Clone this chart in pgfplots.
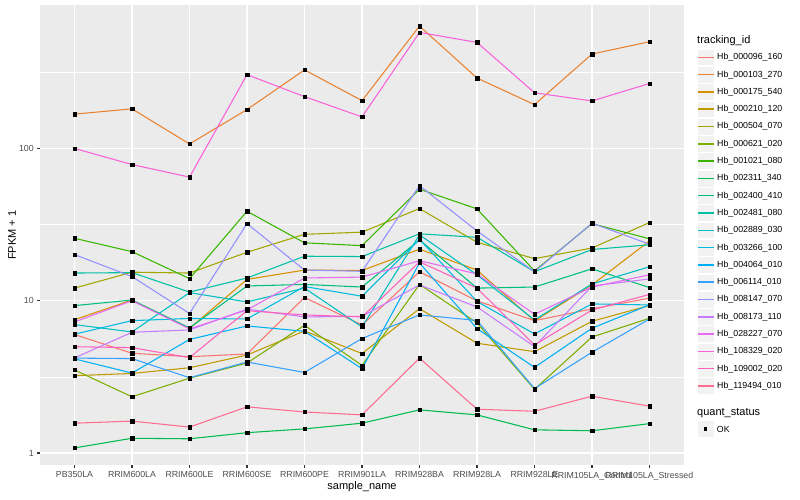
\documentclass[border=0pt]{standalone}
\usepackage{fontspec}
\setmainfont{Liberation Sans}
\usepackage{pgfplots}
\usepackage{pgfplotstable}
\pgfplotsset{compat=1.18}

% ggplot hue palette, 20 levels
\definecolor{c1}{HTML}{F8766D}
\definecolor{c2}{HTML}{EA8331}
\definecolor{c3}{HTML}{D89000}
\definecolor{c4}{HTML}{C09B00}
\definecolor{c5}{HTML}{A3A500}
\definecolor{c6}{HTML}{7CAE00}
\definecolor{c7}{HTML}{39B600}
\definecolor{c8}{HTML}{00BB4E}
\definecolor{c9}{HTML}{00BF7D}
\definecolor{c10}{HTML}{00C1A3}
\definecolor{c11}{HTML}{00BFC4}
\definecolor{c12}{HTML}{00BAE0}
\definecolor{c13}{HTML}{00B0F6}
\definecolor{c14}{HTML}{35A2FF}
\definecolor{c15}{HTML}{9590FF}
\definecolor{c16}{HTML}{C77CFF}
\definecolor{c17}{HTML}{E76BF3}
\definecolor{c18}{HTML}{FA62DB}
\definecolor{c19}{HTML}{FF62BC}
\definecolor{c20}{HTML}{FF6C91}
\definecolor{panelbg}{HTML}{EBEBEB}
\definecolor{keybg}{HTML}{F2F2F2}
\definecolor{gray30}{HTML}{4D4D4D}
\definecolor{gray20}{HTML}{333333}

% FPKM + 1, one column per tracking_id, one row per sample
\pgfplotstableread{
x  s1    s2   s3    s4   s5   s6   s7    s8   s9   s10  s11  s12  s13  s14  s15  s16  s17  s18  s19  s20
0  6.0   168  7.51  3.22 12.1 3.51 25.7  1.08 9.29 15.2 6.97 6.03 4.15 4.2  20.1 4.21 7.26 100  4.99 1.57
1  4.52  182  10.1  3.33 15.4 2.34 21.0  1.25 10.1 15.3 6.24 7.40 3.35 4.17 14.4 6.21 10.0 78.4 4.92 1.62
2  4.29  107  6.58  3.63 15.2 3.1  13.97 1.24 6.63 11.4 11.3 7.65 5.57 3.12 8.25 6.43 6.53 64.8 4.23 1.48
3  4.47  180  13.8  4.40 20.8 3.90 38.7  1.36 12.5 14.1 9.82 7.59 6.83 3.96 32.1 8.8  8.70 305  8.6  2.01
4  10.5  328  15.9  6.33 27.3 6.9  24.0  1.44 12.8 19.6 12.1 12.4 6.3  3.38 15.9 7.83 14.1 219  8.07 1.86
5  6.93  206  15.8  4.5  28.2 3.76 23.0  1.57 12.3 19.5 6.73 10.7 3.58 5.65 15.6 7.9  14.3 161  7.83 1.78
6  15.5  636  21.8  8.87 40.3 12.8 54.0  1.92 25.1 27.5 27.1 25.3 17.7 8.07 57.0 12.7 18.3 578  18.0 4.2
7  9.97  290  15.9  5.26 24.2 7.15 40.1  1.78 12.1 26.1 14.8 9.89 6.56 7.42 28.7 9.10 15.0 497  12.1 1.94
8  7.4   194  7.37  4.63 18.9 2.62 15.7  1.42 12.3 15.5 7.48 6.05 3.65 2.65 15.5 5.0  8.15 232  5.12 1.88
9  8.84  417  12.7  7.33 22.2 5.78 32.1  1.40 16.2 21.7 12.9 9.53 6.6  4.59 32.3 12.5 12.3 205  8.70 2.36
10 10.4  502  24.7  9.3  32.6 7.67 25.5  1.56 12.2 23.3 16.7 9.38 9.4  7.59 23.5 13.9 14.8 267  11.0 2.03
}\fpkm

\begin{document}
\begin{tikzpicture}
\useasboundingbox (-40pt,-34.5pt) rectangle (760pt,465.5pt);
\begin{axis}[
    at={(0pt,0pt)}, anchor=south west,
    scale only axis, width=644pt, height=460.5pt,
    ymode=log,
    xmin=-0.6, xmax=10.6, ymin=0.828, ymax=875,
    axis background/.style={fill=panelbg},
    axis line style={draw=none},
    tick align=outside, tick pos=left,
    major tick length=2.75pt, minor tick length=0pt,
    tick style={gray20, line width=1.07pt},
    xtick={0,...,10},
    xticklabels={PB350LA,RRIM600LA,RRIM600LE,RRIM600SE,RRIM600PE,RRIM901LA,RRIM928BA,RRIM928LA,RRIM928LE,RRIM105LA\_Control,RRIM105LA\_Stressed},
    ytick={1,10,100}, yticklabels={1,10,100},
    minor xtick={}, minor ytick={3.1623,31.623,316.23},
    grid=both,
    major grid style={white, line width=1.07pt},
    minor grid style={white, line width=0.53pt},
    /pgf/number format/assume math mode=true,
    tick label style={font=\fontsize{8.8}{10}\selectfont, text=gray30},
    xlabel={sample\_name}, ylabel={FPKM + 1},
    label style={font=\fontsize{11}{13}\selectfont},
    xlabel style={at={(axis description cs:0.5,-0.0467)}, anchor=center},
    ylabel style={at={(axis description cs:-0.0435,0.5)}, anchor=center},
    legend style={at={(axis description cs:1.0202,0.9052)}, anchor=north west,
        draw=none, fill=none, inner sep=0pt, outer sep=0pt, row sep=0pt,
        nodes={inner sep=0pt, font=\fontsize{8.8}{10}\selectfont, minimum height=17.3pt},
        /tikz/every odd column/.append style={column sep=2.4pt}},
    legend cell align=left,
    legend image code/.code={
        \filldraw[fill=keybg, draw=white, line width=0.5pt] (0.25pt,-8.4pt) rectangle (17.05pt,8.4pt);
        \draw[#1, line width=1.5pt] (0.5pt,0pt) -- (16.8pt,0pt);
    },
    legend entries={Hb\_000096\_160,Hb\_000103\_270,Hb\_000175\_540,Hb\_000210\_120,Hb\_000504\_070,Hb\_000621\_020,Hb\_001021\_080,Hb\_002311\_340,Hb\_002400\_410,Hb\_002481\_080,Hb\_002889\_030,Hb\_003266\_100,Hb\_004064\_010,Hb\_006114\_010,Hb\_008147\_070,Hb\_008173\_110,Hb\_028227\_070,Hb\_108329\_020,Hb\_109002\_020,Hb\_119494\_010},
]
\pgfplotsinvokeforeach{1,...,20}{
    \addplot[draw=c#1, line width=1.07pt, mark=none] table[x=x, y=s#1] {\fpkm};
}
\pgfplotsinvokeforeach{1,...,20}{
    \addplot[only marks, mark=square*, mark size=1.7pt, mark options={fill=black, draw=none}, forget plot] table[x=x, y=s#1] {\fpkm};
}
\end{axis}
\node[anchor=west, inner sep=0pt, font=\fontsize{11}{13}\selectfont] at (657pt,424.8pt) {tracking\_id};
\node[anchor=west, inner sep=0pt, font=\fontsize{11}{13}\selectfont] at (657pt,52.8pt) {quant\_status};
\filldraw[fill=keybg, draw=white, line width=0.5pt] (657.25pt,28.1pt) rectangle (674.05pt,44.9pt);
\fill[black] (663.95pt,34.8pt) rectangle ++(3.4pt,3.4pt);
\node[anchor=west, inner sep=0pt, font=\fontsize{8.8}{10}\selectfont] at (676.7pt,36.5pt) {OK};
\end{tikzpicture}
\end{document}
